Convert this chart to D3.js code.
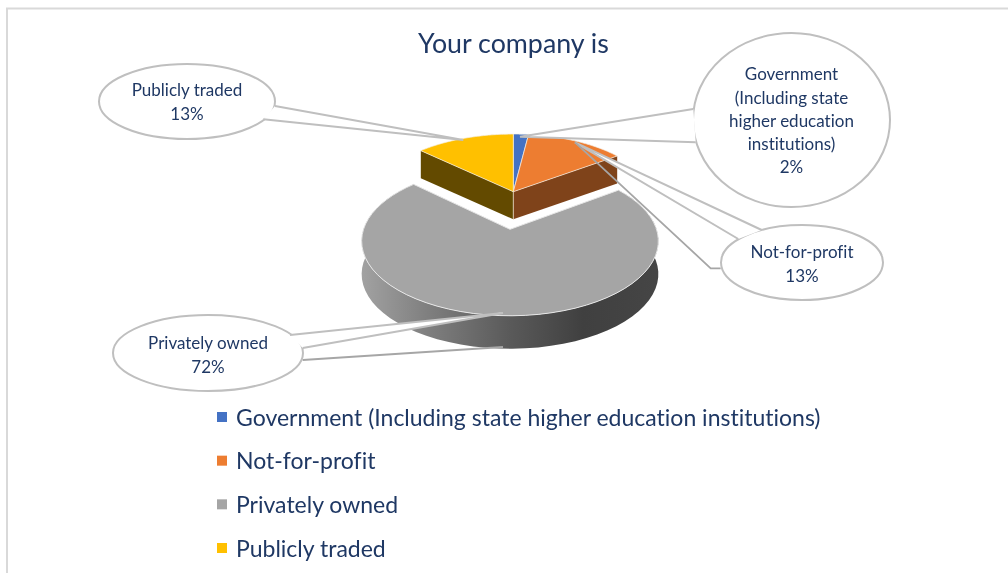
<!DOCTYPE html>
<html><head><meta charset="utf-8">
<script src="https://cdn.jsdelivr.net/npm/d3@7"></script>
<style>html,body{margin:0;padding:0;background:#fff}svg{display:block;filter:blur(0.35px)}text{font-family:Lato,sans-serif;fill:#1f3864;font-variant-ligatures:none}</style>
</head><body><div id="c"></div>
<script>
const title = "Your company is";
const categories = ["Government (Including state higher education institutions)", "Not-for-profit", "Privately owned", "Publicly traded"];
const values = [2, 13, 72, 13];
const topColors = ["#4472c4", "#ed7d31", "#a5a5a5", "#ffc000"];
const sideColors = ["#2a4478", "#7f431a", "#666666", "#634a00"];
const labelLines = [["Government", "(Including state", "higher education", "institutions)", "2%"], ["Not-for-profit", "13%"], ["Privately owned", "72%"], ["Publicly traded", "13%"]];

const W = 1008, H = 573;
const svg = d3.select("#c").append("svg").attr("width", W).attr("height", H);
const defs = svg.append("defs");
const grad = defs.append("linearGradient").attr("id", "rim").attr("gradientUnits", "userSpaceOnUse")
  .attr("x1", 361).attr("x2", 657).attr("y1", 0).attr("y2", 0);
[[0, "#a2a2a2"], [.22, "#808080"], [.5, "#5a5a5a"], [.75, "#404040"], [1, "#454545"]]
  .forEach(s => grad.append("stop").attr("offset", s[0]).attr("stop-color", s[1]));

// frame
svg.append("path").attr("d", "M7,573V8.5H1008").attr("fill", "none").attr("stroke", "#d9d9d9").attr("stroke-width", 2);

svg.append("text").attr("x", 513.5).attr("y", 53).attr("text-anchor", "middle").attr("font-size", 26.8).text(title);

const color = d3.scaleOrdinal(categories, topColors);
const side = d3.scaleOrdinal(categories, sideColors);
const arcs = d3.pie().sort(null).value(d => d.v)(categories.map((c, i) => ({ c, v: values[i] })));

// perspective projection of a unit disc
const project = p => (ang, r = 1, dz = 0) => {
  const u = r * Math.sin(ang), v = -r * Math.cos(ang), d = 1 - p.k * v;
  return [p.cx + p.a * u / d, p.cy + p.b * v / d + dz];
};
const mainP = { cx: 510, cy: 229.3, a: 146.5, b: 72.8, k: 0.158, depth: 33 };
const explP = { cx: 513.3, cy: 191.7, a: 139, b: 65.7, k: 0.14, depth: 27.6 };
const line = d3.line();
const sample = (s, e) => d3.range(0, 61).map(i => s + (e - s) * i / 60);

const isMain = a => a.data.c === categories[2];
const topPath = (a, p) => {
  const P = project(p);
  return line([P(0, 0), ...sample(a.startAngle, a.endAngle).map(t => P(t))]) + "Z";
};

// large slice: rim, then top
const mainArc = arcs.find(isMain), PM = project(mainP);
const rimTop = sample(mainArc.startAngle, mainArc.endAngle);
svg.append("path").attr("fill", "url(#rim)")
  .attr("d", line([...rimTop.map(t => PM(t)), ...rimTop.slice().reverse().map(t => PM(t, 1, mainP.depth))]) + "Z");
svg.append("path").attr("fill", color(mainArc.data.c)).attr("stroke", "#e6e6e6").attr("stroke-width", 1)
  .attr("d", topPath(mainArc, mainP));

// exploded slices: cut faces then tops
const PE = project(explP);
const o = arcs.filter(a => !isMain(a));
const nfp = o[1], pub = o[2];
[[nfp, nfp.endAngle], [pub, pub.startAngle]].forEach(([a, t]) => {
  const c0 = PE(0, 0), c1 = PE(t);
  svg.append("path").attr("fill", side(a.data.c))
    .attr("d", line([c0, c1, [c1[0], c1[1] + explP.depth], [c0[0], c0[1] + explP.depth]]) + "Z");
});
svg.append("path").attr("stroke", "#e8dcc8").attr("stroke-width", .8)
  .attr("d", line([PE(0, 0), [PE(0, 0)[0], PE(0, 0)[1] + explP.depth]]));
svg.selectAll("path.top").data(o).join("path").attr("class", "top")
  .attr("fill", d => color(d.data.c)).attr("stroke", "#f4eee4").attr("stroke-width", .7)
  .attr("d", d => topPath(d, explP));

// callouts
const callouts = [
  { i: 0, cx: 791.5, cy: 120, rx: 98.5, ry: 87, a: [693.3, 109], b: [695.7, 142.3], tip: [520, 136.7], extra: null, ys: [80, 104, 127, 150, 173] },
  { i: 1, cx: 802, cy: 262.5, rx: 81, ry: 37.5, a: [761.7, 230], b: [738.3, 239], tip: [575, 142.3], extra: [[575, 142.3], [710.7, 268.3], [720.7, 268.3]], ys: [258, 282] },
  { i: 2, cx: 208, cy: 353, rx: 95, ry: 38, a: [290, 335], b: [302.7, 348], tip: [503, 313], extra: [[302.7, 360], [503, 347]], ys: [349, 373] },
  { i: 3, cx: 187, cy: 101.5, rx: 88, ry: 37.5, a: [275, 106], b: [263.3, 119.3], tip: [463.3, 140], extra: null, ys: [96, 120] }
];
const labelSize = 17;
const stroke = "#bfbfbf";
callouts.forEach(c => {
  const g = svg.append("g");
  g.append("ellipse").attr("cx", c.cx).attr("cy", c.cy).attr("rx", c.rx).attr("ry", c.ry)
    .attr("fill", "#fff").attr("stroke", stroke).attr("stroke-width", 2);
  g.append("path").attr("fill", "#fff").attr("stroke", "none").attr("d", line([c.a, c.tip, c.b]) + "Z");
  g.append("path").attr("fill", "none").attr("stroke", stroke).attr("stroke-width", 2).attr("d", line([c.a, c.tip, c.b]));
  if (c.extra) g.append("path").attr("fill", "none").attr("stroke", "#a6a6a6").attr("stroke-width", 1.8).attr("d", line(c.extra));
  g.selectAll("text").data(labelLines[c.i]).join("text")
    .attr("x", c.cx).attr("y", (d, j) => c.ys[j]).attr("text-anchor", "middle").attr("font-size", labelSize).text(d => d);
});

// legend
const ly = d3.scalePoint().domain(categories).range([417, 548]);
const leg = svg.selectAll("g.leg").data(categories).join("g").attr("class", "leg");
leg.append("rect").attr("x", 217).attr("y", d => ly(d) - 5).attr("width", 10).attr("height", 10).attr("fill", d => color(d));
leg.append("text").attr("x", 236).attr("y", d => ly(d) + 8.5).attr("font-size", 23).text(d => d);
</script></body></html>
